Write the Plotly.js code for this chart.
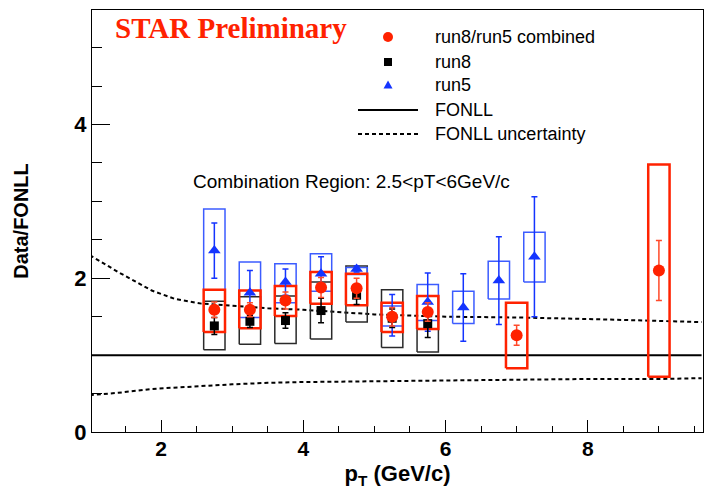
<!DOCTYPE html>
<html>
<head>
<meta charset="utf-8">
<script src="https://cdn.plot.ly/plotly-3.0.1.min.js"></script>
<style>html,body{margin:0;padding:0;background:#fff}</style>
</head>
<body>
<div id="chart" style="width:704px;height:489px"></div>
<script>
// ---- run8/run5 combined: value, stat. error, systematic band ----
const combPt    = [2.75, 3.25, 3.75, 4.25, 4.75, 5.25, 5.75, 7.0, 9.0];
const combVal   = [1.59, 1.59, 1.71, 1.88, 1.87, 1.50, 1.56, 1.26, 2.10];
const combStat  = [0.10, 0.09, 0.11, 0.13, 0.13, 0.12, 0.12, 0.13, 0.39];
const combSysLo = [1.30, 1.35, 1.51, 1.67, 1.65, 1.30, 1.34, 0.83, 0.72];
const combSysHi = [1.85, 1.84, 1.90, 2.08, 2.06, 1.68, 1.77, 1.68, 3.48];

// ---- run8 ----
const run8Pt    = [2.75, 3.25, 3.75, 4.25, 4.75, 5.25, 5.75];
const run8Val   = [1.38, 1.44, 1.45, 1.58, 1.78, 1.48, 1.41];
const run8Stat  = [0.11, 0.08, 0.10, 0.16, 0.12, 0.12, 0.18];
const run8SysLo = [1.07, 1.14, 1.15, 1.21, 1.43, 1.10, 1.04];
const run8SysHi = [1.70, 1.76, 1.77, 1.95, 2.16, 1.85, 1.77];

// ---- run5 ----
const run5Pt    = [2.75, 3.25, 3.75, 4.25, 4.75, 5.25, 5.75, 6.25, 6.75, 7.25];
const run5Val   = [2.36, 1.81, 1.95, 2.06, 2.12, 1.52, 1.69, 1.62, 1.97, 2.28];
const run5Stat  = [0.36, 0.29, 0.17, 0.22, 0.04, 0.27, 0.38, 0.44, 0.57, 0.78];
const run5SysLo = [1.85, 1.49, 1.68, 1.83, 2.05, 1.38, 1.45, 1.41, 1.73, 1.95];
const run5SysHi = [2.90, 2.21, 2.19, 2.32, 2.14, 1.64, 1.92, 1.83, 2.22, 2.60];

// ---- FONLL reference and its uncertainty band ----
const fonllPt  = [1.0, 9.6];
const fonllVal = [1.0, 1.0];
const uncPt = [1.0, 1.4, 1.87, 2.2, 2.57, 3.0, 3.5, 4.0, 5.0, 6.0, 7.0, 8.0, 9.0, 9.6];
const uncHi = [2.30, 2.08, 1.84, 1.73, 1.67, 1.64, 1.61, 1.59, 1.53, 1.50, 1.49, 1.47, 1.44, 1.43];
const uncLo = [0.48, 0.51, 0.56, 0.58, 0.60, 0.62, 0.64, 0.65, 0.66, 0.67, 0.68, 0.69, 0.69, 0.70];

// ---- texts and ticks ----
const legendLabels = ['run8/run5 combined', 'run8', 'run5', 'FONLL', 'FONLL uncertainty'];
const xTickVals = [2, 4, 6, 8];
const xTickText = ['2', '4', '6', '8'];
const yTickVals = [0, 2, 4];
const yTickText = ['0', '2', '4'];

// ---- styling ----
const RED = '#ff2200', RED_ERR = '#ff4a2a';
const BLUE = '#1434ff', BLUE_BOX = '#3c5cff';
const BLACK = '#000000', BLACK_BOX = '#2a2a2a';
const SANS = 'Liberation Sans, Arial, sans-serif';
const SERIF = 'Liberation Serif, Times New Roman, serif';
const BOX_HALF = 0.15;

const W = 704, H = 489;
const M = {l: 92, r: 1, t: 10, b: 57};
const px = v => (v - M.l) / (W - M.l - M.r);
const py = v => (H - M.b - v) / (H - M.t - M.b);

// Rectangles for systematic bands, separated by gaps
function bandOutline(x, lo, hi) {
  const xs = [], ys = [];
  x.forEach((c, i) => {
    xs.push(c - BOX_HALF, c + BOX_HALF, c + BOX_HALF, c - BOX_HALF, c - BOX_HALF, null);
    ys.push(lo[i], lo[i], hi[i], hi[i], lo[i], null);
  });
  return {xs, ys};
}

function boxTrace(x, lo, hi, color, width) {
  const o = bandOutline(x, lo, hi);
  return {x: o.xs, y: o.ys, mode: 'lines', type: 'scatter',
    line: {color: color, width: width}, hoverinfo: 'skip', showlegend: false};
}

function pointTrace(x, y, err, symbol, size, color, errColor) {
  return {x: x, y: y, mode: 'markers', type: 'scatter', showlegend: false,
    marker: {symbol: symbol, size: size, color: color, line: {width: 0}},
    error_y: {type: 'data', array: err, visible: true, color: errColor, thickness: 1.5, width: 3}};
}

const traces = [
  {x: uncPt, y: uncHi, mode: 'lines', type: 'scatter', showlegend: false,
   line: {color: BLACK, width: 2, dash: '4px,3px'}},
  {x: uncPt, y: uncLo, mode: 'lines', type: 'scatter', showlegend: false,
   line: {color: BLACK, width: 2, dash: '4px,3px'}},
  {x: fonllPt, y: fonllVal, mode: 'lines', type: 'scatter', showlegend: false,
   line: {color: BLACK, width: 2}},
  boxTrace(run8Pt, run8SysLo, run8SysHi, BLACK_BOX, 1.5),
  boxTrace(run5Pt, run5SysLo, run5SysHi, BLUE_BOX, 1.5),
  boxTrace(combPt, combSysLo, combSysHi, RED, 2.5),
  pointTrace(run5Pt, run5Val, run5Stat, 'triangle-up', 11, BLUE, BLUE),
  pointTrace(run8Pt, run8Val, run8Stat, 'square', 9, BLACK, BLACK),
  pointTrace(combPt, combVal, combStat, 'circle', 12, RED, RED_ERR)
];

// Legend rows (pixel y of each row centre)
const rowY = [37, 62, 85, 110, 134];
const symX = 388, lineX0 = 358, lineX1 = 418, textX = 433;

const shapes = [
  {type: 'circle', xref: 'paper', yref: 'paper', xsizemode: 'pixel', ysizemode: 'pixel',
   xanchor: px(symX), yanchor: py(rowY[0]), x0: -5, x1: 5, y0: -5, y1: 5,
   fillcolor: RED, line: {width: 0}},
  {type: 'rect', xref: 'paper', yref: 'paper', xsizemode: 'pixel', ysizemode: 'pixel',
   xanchor: px(symX), yanchor: py(rowY[1]), x0: -4, x1: 4, y0: -4, y1: 4,
   fillcolor: BLACK, line: {width: 0}},
  {type: 'path', xref: 'paper', yref: 'paper', xsizemode: 'pixel', ysizemode: 'pixel',
   xanchor: px(symX), yanchor: py(rowY[2]), path: 'M-4.5,-3.5 L4.5,-3.5 L0,4.5 Z',
   fillcolor: BLUE, line: {width: 0}},
  {type: 'line', xref: 'paper', yref: 'paper', x0: px(lineX0), x1: px(lineX1),
   y0: py(rowY[3]), y1: py(rowY[3]), line: {color: BLACK, width: 2}},
  {type: 'line', xref: 'paper', yref: 'paper', x0: px(lineX0), x1: px(lineX1),
   y0: py(rowY[4]), y1: py(rowY[4]), line: {color: BLACK, width: 2, dash: '4px,3px'}}
];

const annotations = legendLabels.map((t, i) => ({
  text: t, xref: 'paper', yref: 'paper', x: px(textX), y: py(rowY[i]),
  xanchor: 'left', yanchor: 'middle', showarrow: false,
  font: {family: SANS, size: 18, color: BLACK}
}));
annotations.push({
  text: 'STAR Preliminary', xref: 'paper', yref: 'paper', x: px(113), y: py(28),
  xanchor: 'left', yanchor: 'middle', showarrow: false,
  font: {family: SERIF, size: 29, color: RED, weight: 'bold'}
});
annotations.push({
  text: 'Combination Region: 2.5&lt;pT&lt;6GeV/c', xref: 'paper', yref: 'paper',
  x: px(191), y: py(181), xanchor: 'left', yanchor: 'middle', showarrow: false,
  font: {family: SANS, size: 19, color: BLACK}
});

const layout = {
  width: W, height: H,
  margin: M,
  paper_bgcolor: '#ffffff', plot_bgcolor: '#ffffff',
  showlegend: false,
  xaxis: {
    range: [1.03, 9.62],
    tickmode: 'array', tickvals: xTickVals, ticktext: xTickText,
    ticks: 'inside', ticklen: 12, tickwidth: 1, tickcolor: BLACK,
    ticklabelstandoff: -2,
    minor: {tickmode: 'linear', tick0: 0, dtick: 0.5, ticks: 'inside', ticklen: 6, tickcolor: BLACK, tickwidth: 1},
    showline: true, mirror: true, linecolor: BLACK, linewidth: 1,
    showgrid: false, zeroline: false,
    tickfont: {family: SANS, size: 21, color: BLACK, weight: 'bold'},
    title: {text: 'p<sub>T</sub> (GeV/c)', standoff: 6,
      font: {family: SANS, size: 22, color: BLACK, weight: 'bold'}}
  },
  yaxis: {
    range: [0, 5.49],
    tickmode: 'array', tickvals: yTickVals, ticktext: yTickText,
    ticks: 'inside', ticklen: 18, tickwidth: 1, tickcolor: BLACK,
    minor: {tickmode: 'linear', tick0: 0, dtick: 0.5, ticks: 'inside', ticklen: 10, tickcolor: BLACK, tickwidth: 1},
    showline: true, mirror: true, linecolor: BLACK, linewidth: 1,
    showgrid: false, zeroline: false,
    tickfont: {family: SANS, size: 22, color: BLACK, weight: 'bold'},
    title: {text: 'Data/FONLL', standoff: 40,
      font: {family: SANS, size: 20, color: BLACK, weight: 'bold'}}
  },
  shapes: shapes,
  annotations: annotations
};

Plotly.newPlot('chart', traces, layout, {staticPlot: true, displayModeBar: false});
</script>
</body>
</html>
